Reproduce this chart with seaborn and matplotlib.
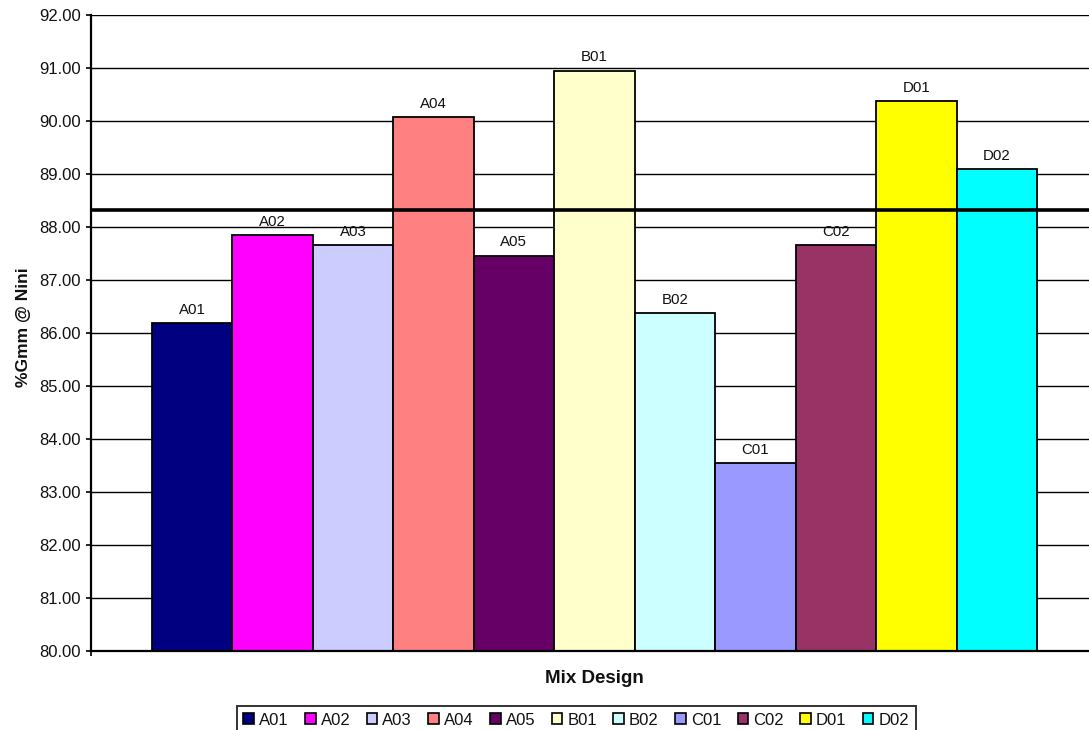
import matplotlib
matplotlib.use("Agg")
import matplotlib.pyplot as plt
from matplotlib.patches import Patch
import pandas as pd
import seaborn as sns

# Mix designs and their %Gmm at N-initial
designs = ["A01", "A02", "A03", "A04", "A05", "B01", "B02", "C01", "C02", "D01", "D02"]
gmm_nini = [86.19, 87.85, 87.66, 90.07, 87.46, 90.95, 86.37, 83.54, 87.65, 90.38, 89.09]
bar_colors = ["#000080", "#FF00FF", "#CCCCFF", "#FF8080", "#660066", "#FFFFCC",
              "#CCFFFF", "#9999FF", "#993366", "#FFFF00", "#00FFFF"]
limit_line = 88.32
y_ticks = [80, 81, 82, 83, 84, 85, 86, 87, 88, 89, 90, 91, 92]

df = pd.DataFrame({"group": "Mix Design", "design": designs, "gmm": gmm_nini})

sns.set_theme(style="white")
plt.rcParams["font.family"] = ["Liberation Sans", "DejaVu Sans"]

fig = plt.figure(figsize=(10.89, 7.30), dpi=100)
ax = fig.add_axes([0.0836, 0.1086, 0.9244, 0.8708])

sns.barplot(data=df, x="group", y="gmm", hue="design", hue_order=designs,
            palette=bar_colors, width=0.8794, dodge=True, gap=0,
            edgecolor="black", linewidth=1.3, saturation=1, legend=False,
            errorbar=None, ax=ax)

for name, cont in zip(designs, ax.containers):
    ax.bar_label(cont, labels=[name], padding=4.5, fontsize=10.8, color="#111111")

ax.set_xlim(-0.5, 0.5)
ax.set_ylim(80, 92)
ax.set_yticks(y_ticks)
ax.set_yticklabels([f"{v:.2f}" for v in y_ticks], fontsize=12, color="#111111")
ax.set_xticks([-0.5])
ax.set_xticklabels([""])
ax.tick_params(axis="both", direction="out", length=3.5, width=1.2,
               color="black", left=True, bottom=True, pad=4)

ax.yaxis.grid(True, color="black", linewidth=1.0)
ax.set_axisbelow(True)
for side in ["top", "right"]:
    ax.spines[side].set_visible(False)
for side in ["left", "bottom"]:
    ax.spines[side].set_color("black")
    ax.spines[side].set_linewidth(1.6)
    ax.spines[side].set_zorder(6)

ax.axhline(limit_line, color="black", linewidth=2.6, zorder=5)

ax.set_xlabel("Mix Design", fontsize=13.5, fontweight="bold", color="#111111")
ax.set_ylabel("%Gmm @ Nini", fontsize=12.5, fontweight="bold", color="#111111")
ax.xaxis.set_label_coords(0.5, -0.030)
ax.yaxis.set_label_coords(-0.0596, 0.509)

handles = [Patch(facecolor=c, edgecolor="black", linewidth=1.2, label=d)
           for d, c in zip(designs, bar_colors)]
leg = fig.legend(handles=handles, loc="upper left", ncol=len(designs),
                 bbox_to_anchor=(0.2174, 0.0329), bbox_transform=fig.transFigure,
                 fontsize=12, frameon=True, fancybox=False, shadow=False,
                 handlelength=0.64, handleheight=0.64, handletextpad=0.3,
                 columnspacing=0.98, borderpad=0.4, borderaxespad=0)
leg.get_frame().set_edgecolor("black")
leg.get_frame().set_linewidth(1.4)
leg.get_frame().set_facecolor("white")
for t in leg.get_texts():
    t.set_color("#111111")

fig.savefig("out.png", dpi=100)
